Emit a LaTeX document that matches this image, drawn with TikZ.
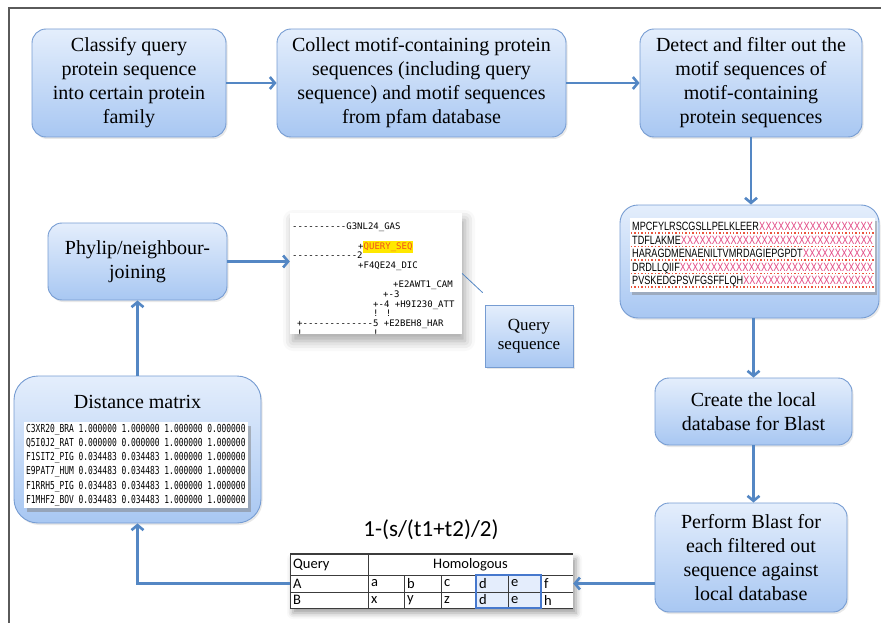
\documentclass[tikz,border=0pt]{standalone}
\usepackage{fontspec}
\setmainfont{Liberation Serif}
\newfontfamily\boxfont{Liberation Serif}
\newfontfamily\calfont{Carlito}
\newfontfamily\treefont[Ligatures=TeXOff]{DejaVu Sans Mono}
\newfontfamily\matfont[Ligatures=TeXOff,FakeStretch=0.72]{DejaVu Sans Mono}
\newfontfamily\seqfont[FakeStretch=0.76]{Liberation Sans}
\usepackage{xcolor}
\definecolor{boxtop}{RGB}{228,238,252}
\definecolor{boxbot}{RGB}{168,199,242}
\definecolor{boxedge}{RGB}{118,156,210}
\definecolor{flowblue}{RGB}{84,135,196}
\definecolor{framegray}{RGB}{90,90,90}
\definecolor{xpink}{RGB}{226,70,130}
\definecolor{sqred}{RGB}{235,85,60}
\definecolor{qyellow}{RGB}{255,232,0}
\definecolor{qorange}{RGB}{240,80,30}
\definecolor{hlfill}{RGB}{228,237,252}
\definecolor{hledge}{RGB}{70,120,205}
\definecolor{gridline}{RGB}{60,60,60}
\usepackage{tikz}
\usetikzlibrary{arrows.meta,positioning,calc,shadows,shadows.blur}
\newcommand\xfill[1]{\makebox[241pt][l]{#1\textcolor{xpink}{\xleaders\hbox{X}\hfill}}}
\tikzset{
  %% flow chart boxes
  stepbox/.style={draw=boxedge, line width=0.9pt, rounded corners=14pt,
    top color=boxtop, bottom color=boxbot, align=center,
    font=\boxfont\fontsize{20}{24}\selectfont,
    drop shadow={opacity=0.18, shadow xshift=1.5pt, shadow yshift=-2pt}},
  qbox/.style={draw=boxedge, line width=0.7pt,
    top color=boxtop, bottom color=boxbot, align=center,
    font=\boxfont\fontsize{17}{19.5}\selectfont,
    drop shadow={opacity=0.18, shadow xshift=1.5pt, shadow yshift=-2pt}},
  flow/.style={draw=flowblue, line width=2.6pt,
    -{Straight Barb[length=5pt,width=12pt]}},
  treetxt/.style={font=\treefont\fontsize{9}{10}\selectfont,
    anchor=base west, inner sep=0pt},
  seqtxt/.style={font=\seqfont\fontsize{12}{13}\selectfont,
    anchor=base west, inner sep=0pt},
  celltxt/.style={font=\calfont\fontsize{14.5}{16}\selectfont,
    anchor=west, inner sep=0pt},
}

\begin{document}
\begin{tikzpicture}[x=1pt,y=-1pt]
  \useasboundingbox (0,0) rectangle (881,623);
  \draw[framegray,line width=2pt] (9,623) -- (9,8) -- (881,8);

  %% top row
  \node[stepbox,minimum width=194,minimum height=108] (classify) at (129,83)
    {Classify query\\protein sequence\\into certain protein\\family};
  \node[stepbox,minimum width=289,minimum height=108] (collect) at (421.5,83)
    {Collect motif-containing protein\\sequences (including query\\sequence) and motif sequences\\from pfam database};
  \node[stepbox,minimum width=222,minimum height=108] (detect) at (751,83)
    {Detect and filter out the\\motif sequences of\\motif-containing\\protein sequences};

  %% filtered sequences
  \node[stepbox,rounded corners=18pt,minimum width=259,minimum height=113] (seq) at (749.5,261.5) {};
  \node[fill=white,minimum width=245,minimum height=74,inner sep=0pt,
    drop shadow={opacity=0.45, shadow xshift=2pt, shadow yshift=-3pt}] (seqimg) at (752.5,255) {};
  \foreach \s [count=\i] in {MPCFYLRSCGSLLPELKLEER,TDFLAKME,HARAGDMENAENILTVMRDAGIEPGPDT,DRDLLQIIF,PVSKEDGPSVFGSFFLQH}{
    \draw[sqred,line width=1.4pt,dotted] (631,{219.5+13.5*\i}) -- (874,{219.5+13.5*\i});
    \node[seqtxt] at (632,{217+13.5*\i}) {\xfill{\s}};
  }

  \node[stepbox,minimum width=197,minimum height=67] (create) at (753.5,411.5)
    {Create the local\\database for Blast};
  \node[stepbox,minimum width=192,minimum height=109] (perform) at (751,557.5)
    {Perform Blast for\\each filtered out\\sequence against\\local database};

  %% homology table
  \node[fill=white,minimum width=283,minimum height=54,inner sep=0pt,
    blur shadow={shadow xshift=3pt,shadow yshift=-5pt,shadow blur radius=6pt,shadow opacity=40}] (tbl) at (431.5,581) {};
  \coordinate (rowA) at (431.5,583.5);
  \node[font=\calfont\fontsize{23}{26}\selectfont] (formula) at (431,530) {1-(s/(t1+t2)/2)};
  \fill[hlfill] (476,575) rectangle (541,608);
  \draw[gridline,line width=1.1pt] (290,554) -- (573,554);
  \draw[gridline,line width=0.7pt] (290,575) -- (573,575) (290,592) -- (573,592)
    (290,608) -- (573,608) (290,554) -- (290,608) (368,554) -- (368,608);
  \foreach \x in {404,441,476,508,541}
    \draw[gridline,line width=0.7pt] (\x,575) -- (\x,608);
  \draw[hledge,line width=1.3pt] (476,575) rectangle (541,608);
  \node[celltxt] at (293,565) {Query};
  \node[celltxt,anchor=center] at (470.5,565) {Homologous};
  \node[celltxt] at (293,583.5) {A};
  \node[celltxt] at (293,600) {B};
  \foreach \x/\a/\b in {368/a/x,404/b/y,441/c/z,476/d/d,508/e/e,541/f/h}{
    \node[celltxt] at (\x+3,583.5) {\a};
    \node[celltxt] at (\x+3,600) {\b};
  }

  %% distance matrix
  \node[stepbox,rounded corners=24pt,minimum width=247,minimum height=147] (dist) at (137.5,449.5) {};
  \node[font=\boxfont\fontsize{20}{24}\selectfont] (distlbl) at (137.5,402) {Distance matrix};
  \node[fill=white,anchor=north west,inner sep=2pt,align=left,
    font=\matfont\fontsize{11}{14.2}\selectfont,
    drop shadow={opacity=0.5, shadow xshift=3pt, shadow yshift=-4pt}] (matimg) at (24,422)
    {C3XR20\_BRA 1.000000 1.000000 1.000000 0.000000\\
     Q5I0J2\_RAT 0.000000 0.000000 1.000000 1.000000\\
     F1SIT2\_PIG 0.034483 0.034483 1.000000 1.000000\\
     E9PAT7\_HUM 0.034483 0.034483 1.000000 1.000000\\
     F1RRH5\_PIG 0.034483 0.034483 1.000000 1.000000\\
     F1MHF2\_BOV 0.034483 0.034483 1.000000 1.000000};

  \node[stepbox,minimum width=179,minimum height=77] (phylip) at (137.5,261.5)
    {Phylip/neighbour-\\joining};

  %% tree output
  \node[fill=white,minimum width=172,minimum height=121,inner sep=0pt,
    blur shadow={shadow xshift=3pt,shadow yshift=-7pt,shadow blur radius=10pt,shadow opacity=35}] (tree) at (376,273.5) {};
  \begin{scope}
    \clip (290,213) rectangle (462,334);
    \node[treetxt] at (292,229) {----------G3NL24\_GAS};
    \node[treetxt] at (358,249) {+};
    \node[treetxt,fill=qyellow,text=qorange,inner xsep=0.5pt,inner ysep=1.5pt] at (363,249) {QUERY\_SEQ};
    \node[treetxt] at (292,258) {------------2};
    \node[treetxt] at (358,268) {+F4QE24\_DIC};
    \node[treetxt] at (393,287) {+E2AWT1\_CAM};
    \node[treetxt] at (383,297) {+-3};
    \node[treetxt] at (373,307) {+-4 +H9I230\_ATT};
    \node[treetxt] at (373,316) {! !};
    \node[treetxt] at (297,326) {+-------------5 +E2BEH8\_HAR};
    \node[treetxt] at (297,336) {!};
    \node[treetxt] at (373,336) {!};
  \end{scope}
  \node[qbox,minimum width=88,minimum height=62] (query) at (529,336) {Query\\sequence};

  %% connectors
  \draw[flow] (classify) -- (collect);
  \draw[flow] (collect) -- (detect);
  \draw[flow] (detect) -- (detect |- seq.north);
  \draw[flow] (create |- seq.south) -- (create);
  \draw[flow] (create) -- (create |- perform.north);
  \draw[flow] (perform.west |- rowA) -- (tbl.east |- rowA);
  \draw[flow] (tbl.west |- rowA) -| (dist.south);
  \draw[flow] (dist) -- (phylip);
  \draw[flow] (phylip.east) -- (phylip.east -| tree.west);
  \draw[flowblue,line width=0.8pt] (tree.east) -- ($(query.north west)+(-2,-12)$);
\end{tikzpicture}
\end{document}
